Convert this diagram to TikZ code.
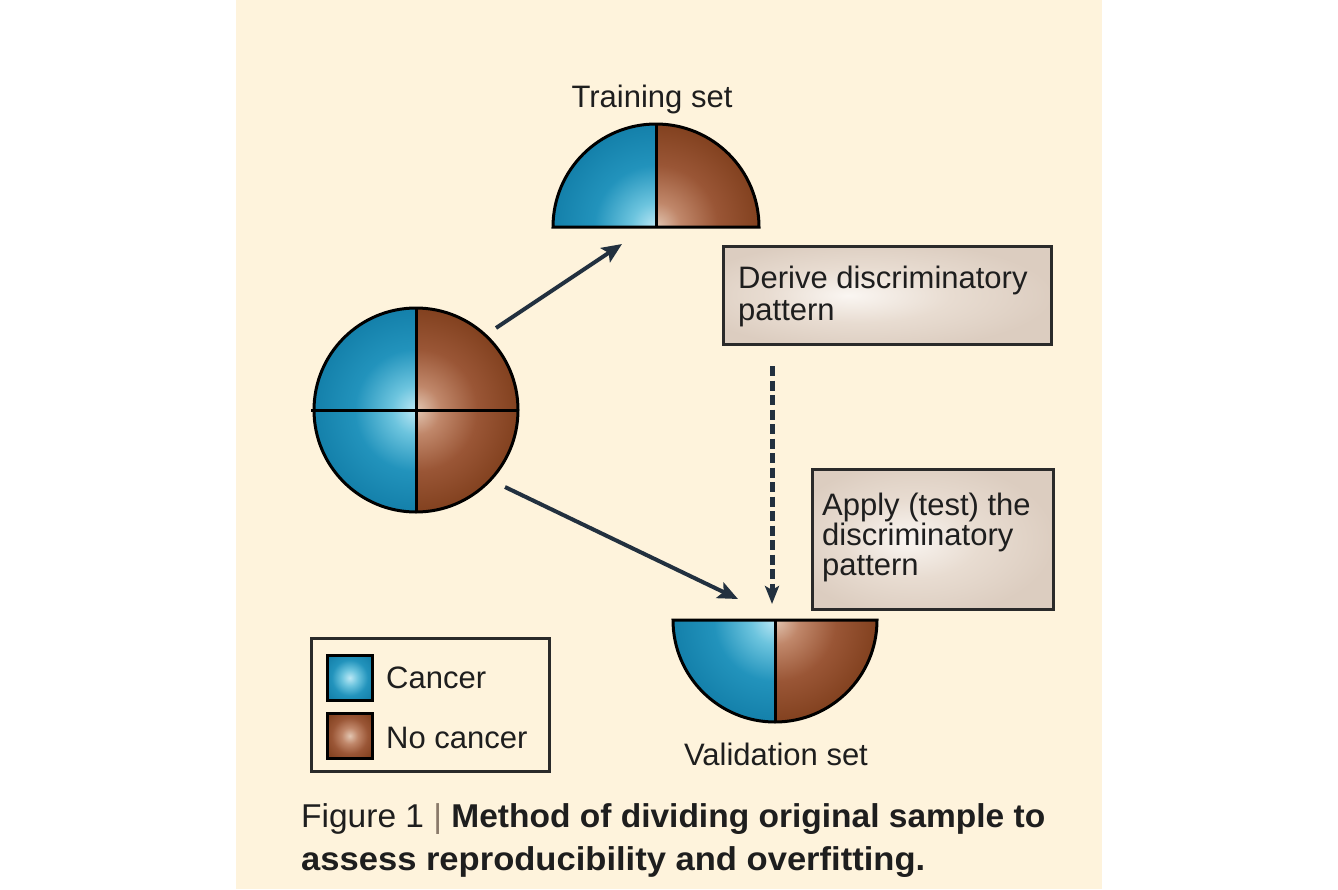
\documentclass[tikz,border=0pt]{standalone}
\usepackage{graphicx}
\usepackage{fontspec}
\setmainfont{Liberation Sans}
\usetikzlibrary{arrows.meta}
\definecolor{bg}{HTML}{FEF3DC}
\definecolor{txt}{HTML}{1E1E1E}
\definecolor{arr}{HTML}{22303F}
\definecolor{boxline}{HTML}{2A2A2A}
\definecolor{bar}{HTML}{8A7A6A}
\definecolor{cA}{HTML}{BCE8F5}
\definecolor{cB}{HTML}{6CC4DE}
\definecolor{cC}{HTML}{2293BC}
\definecolor{cD}{HTML}{1480AA}
\definecolor{bA}{HTML}{E2C6B2}
\definecolor{bB}{HTML}{C0876A}
\definecolor{bC}{HTML}{9A5636}
\definecolor{bD}{HTML}{82411F}
\definecolor{xA}{HTML}{FAF6F2}
\definecolor{xB}{HTML}{E8DCD1}
\definecolor{xC}{HTML}{DCCDC0}
\pgfdeclareradialshading{cancershade}{\pgfpoint{0bp}{0bp}}{color(0bp)=(cA); color(6bp)=(cB); color(15bp)=(cC); color(25bp)=(cD); color(50bp)=(cD)}
\pgfdeclareradialshading{nocancershade}{\pgfpoint{0bp}{0bp}}{color(0bp)=(bA); color(6bp)=(bB); color(15bp)=(bC); color(25bp)=(bD); color(50bp)=(bD)}
\pgfdeclareradialshading{cancersq}{\pgfpoint{0bp}{0bp}}{color(0bp)=(cA); color(9bp)=(cB); color(20bp)=(cC); color(32bp)=(cD); color(50bp)=(cD)}
\pgfdeclareradialshading{nocancersq}{\pgfpoint{0bp}{0bp}}{color(0bp)=(bA); color(9bp)=(bB); color(20bp)=(bC); color(32bp)=(bD); color(50bp)=(bD)}
\pgfdeclareradialshading{boxshade}{\pgfpoint{-6bp}{0bp}}{color(0bp)=(xA); color(14bp)=(xB); color(28bp)=(xC); color(50bp)=(xC)}
\begin{document}
\begin{tikzpicture}[x=1pt,y=1pt,
  lbl/.style={font=\fontsize{31}{31}\selectfont, text=txt, inner sep=0pt, anchor=base west},
  clbl/.style={lbl, anchor=base},
  outl/.style={draw=black, line width=3pt},
  conn/.style={draw=arr, line width=4pt, -{Stealth[length=20pt,width=17pt,inset=4pt]}},
  boxst/.style={draw=boxline, line width=2.5pt, shading=boxshade, inner sep=0pt, anchor=north west},
  legsq/.style={draw=black, line width=2.5pt, minimum size=45pt, inner sep=0pt, anchor=north west},
]
\useasboundingbox (0,0) rectangle (1338,-889);
\fill[white] (0,0) rectangle (1338,-889);
\fill[bg] (236,0) rectangle (1102,-889);

% original sample (full disc)
\coordinate (C) at (416,-410);
\begin{scope}
  \clip (C) -- ++(0,102) arc[start angle=90,end angle=270,radius=102] -- cycle;
  \shade[shading=cancershade] (C) circle[radius=102];
\end{scope}
\begin{scope}
  \clip (C) -- ++(0,102) arc[start angle=90,end angle=-90,radius=102] -- cycle;
  \shade[shading=nocancershade] (C) circle[radius=102];
\end{scope}
\draw[outl] (C) circle[radius=102];
\draw[outl] (416,-308) -- (416,-512);
\draw[outl] (311,-410) -- (518,-410);

% training set (upper half disc)
\coordinate (T) at (656,-227);
\begin{scope}
  \clip (T) -- ++(-103,0) arc[start angle=180,end angle=90,radius=103] -- cycle;
  \shade[shading=cancershade] (T) circle[radius=103];
\end{scope}
\begin{scope}
  \clip (T) -- ++(103,0) arc[start angle=0,end angle=90,radius=103] -- cycle;
  \shade[shading=nocancershade] (T) circle[radius=103];
\end{scope}
\draw[outl] (T) ++(-103,0) arc[start angle=180,end angle=0,radius=103] -- cycle;
\draw[outl] (T) -- ++(0,103);
\node[clbl] (trainlbl) at (652,-107) {Training set};

% validation set (lower half disc)
\coordinate (V) at (775,-620);
\begin{scope}
  \clip (V) -- ++(-102,0) arc[start angle=180,end angle=270,radius=102] -- cycle;
  \shade[shading=cancershade] (V) circle[radius=102];
\end{scope}
\begin{scope}
  \clip (V) -- ++(102,0) arc[start angle=0,end angle=-90,radius=102] -- cycle;
  \shade[shading=nocancershade] (V) circle[radius=102];
\end{scope}
\draw[outl] (V) ++(-102,0) arc[start angle=180,end angle=360,radius=102] -- cycle;
\draw[outl] (V) -- ++(0,-102);
\node[clbl] (vallbl) at (776,-765) {Validation set};

% connectors
\coordinate (a1s) at (496,-328);
\coordinate (a1e) at (622,-244);
\draw[conn] (a1s) -- (a1e);
\coordinate (a2s) at (505,-487);
\coordinate (a2e) at (738,-599);
\draw[conn] (a2s) -- (a2e);
\coordinate (d1s) at (772,-366);
\coordinate (d1e) at (772,-604);
\draw[conn, line width=5pt, dash pattern=on 10pt off 4.5pt, -{Stealth[length=18pt,width=14pt,inset=4pt]}] (d1s) -- (d1e);

% boxes
\node[boxst, minimum width=328pt, minimum height=98pt] (derive) at (722,-245) {};
\node[lbl] (derivet1) at (738,-288) {Derive discriminatory};
\node[lbl] (derivet2) at (738,-320) {pattern};
\node[boxst, minimum width=241pt, minimum height=140pt] (apply) at (811,-468) {};
\node[lbl] (applyt1) at (822,-515) {Apply (test) the};
\node[lbl] (applyt2) at (822,-545) {discriminatory};
\node[lbl] (applyt3) at (822,-575) {pattern};

% legend
\node[draw=boxline, line width=2.5pt, minimum width=238pt, minimum height=133pt, inner sep=0pt, anchor=north west] (legend) at (310,-637) {};
\node[legsq, shading=cancersq] (legc) at (326,-654) {};
\node[legsq, shading=nocancersq] (legn) at (326,-712) {};
\node[lbl] (legct) at (386,-688) {Cancer};
\node[lbl] (legnt) at (386,-748) {No cancer};

% caption
\node[lbl, font=\fontsize{33}{33}\selectfont] (cap1) at (301,-827) {\resizebox{744pt}{\height}{Figure 1 \textcolor{bar}{|} \textbf{Method of dividing original sample to}}};
\node[lbl, font=\fontsize{33}{33}\selectfont] (cap2) at (301,-870) {\resizebox{624pt}{\height}{\textbf{assess reproducibility and overfitting.}}};
\end{tikzpicture}
\end{document}
